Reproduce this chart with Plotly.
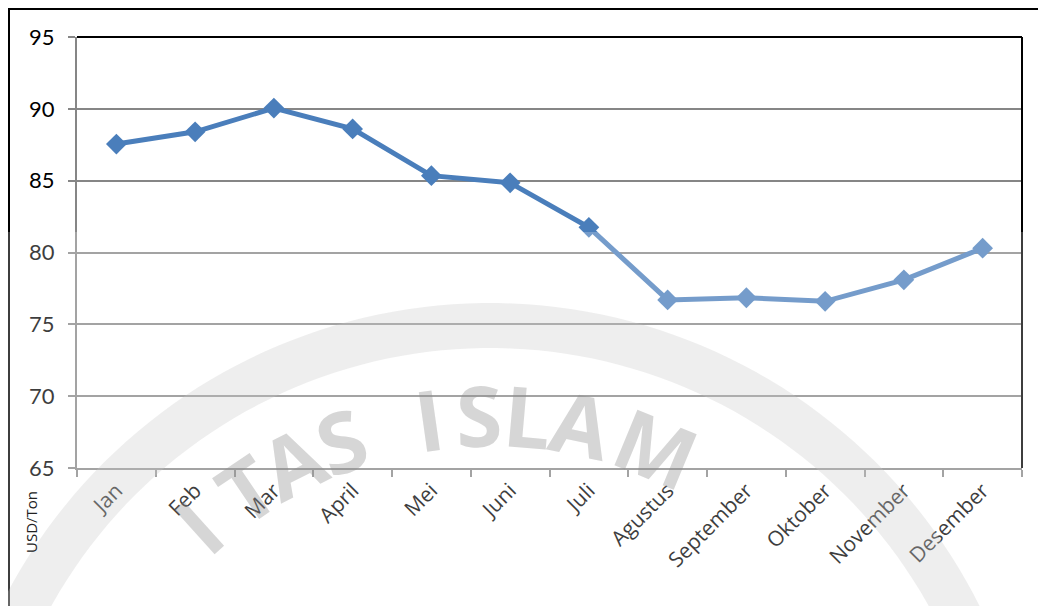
import numpy as np
import plotly.graph_objects as go

months = ["Jan", "Feb", "Mar", "April", "Mei", "Juni", "Juli", "Agustus",
          "September", "Oktober", "November", "Desember"]
price = [87.55, 88.4, 90.05, 88.6, 85.35, 84.85, 81.75, 76.7, 76.85, 76.6, 78.1, 80.3]
y_ticks = [65, 70, 75, 80, 85, 90, 95]
unit_label = "USD/Ton"

OFF = 8  # page body margin
W, H = 1046 - OFF, 606 - OFF
L, T = 77 - OFF, 37 - OFF
R = W - (1022 - OFF)
B = H - (468 - OFF)
PW, PH = W - L - R, H - T - B


def xp(px):
    return (px - OFF - L) / PW


def yp(py):
    return (H - B - (py - OFF)) / PH


fig = go.Figure()
fig.add_trace(go.Scatter(
    x=months, y=price, mode="lines+markers",
    line=dict(color="#4a7ebb", width=5),
    marker=dict(symbol="diamond", size=16, color="#4a7ebb"),
    showlegend=False, hoverinfo="x+y",
))

shapes = []
# outer frame (top and left)
shapes.append(dict(type="line", xref="paper", yref="paper", x0=xp(8), x1=xp(1060), y0=yp(9), y1=yp(9),
                   line=dict(color="black", width=2)))
shapes.append(dict(type="line", xref="paper", yref="paper", x0=xp(9), x1=xp(9), y0=yp(8), y1=yp(620),
                   line=dict(color="black", width=2)))
# plot-area top and right
shapes.append(dict(type="line", xref="paper", yref="paper", x0=0, x1=1, y0=1, y1=1,
                   line=dict(color="black", width=2)))
shapes.append(dict(type="line", xref="paper", yref="paper", x0=1, x1=1, y0=0, y1=1,
                   line=dict(color="black", width=2)))

# watermark lightening overlay
shapes.append(dict(type="rect", xref="paper", yref="paper", layer="above",
                   x0=xp(0), x1=xp(1060), y0=yp(620), y1=yp(232),
                   fillcolor="rgba(255,255,255,0.24)", line=dict(width=0)))

# watermark ring
cx, cy, ro, ri = 490, 850, 547, 502
th = np.radians(np.linspace(-70, 70, 90))
outer = [(cx + ro * np.sin(t), cy - ro * np.cos(t)) for t in th]
inner = [(cx + ri * np.sin(t), cy - ri * np.cos(t)) for t in th[::-1]]
pts = outer + inner
path = "M " + " L ".join(f"{xp(a):.5f},{yp(b):.5f}" for a, b in pts) + " Z"
shapes.append(dict(type="path", xref="paper", yref="paper", layer="above", path=path,
                   fillcolor="rgba(200,200,200,0.3)", line=dict(width=0)))

annotations = [dict(text=unit_label, xref="paper", yref="paper", x=xp(31), y=yp(522),
                    xanchor="center", yanchor="middle",
                    showarrow=False, textangle=-90, font=dict(family="Open Sans", size=15, color="#222"))]

# watermark letters along arc (visible ones)
letter_angles = [("I", -42), ("T", -34), ("A", -27), ("S", -20),
                 ("I", -8), ("S", -1.5), ("L", 5), ("A", 12), ("M", 22.5)]
rl = 436
for ch, ang in letter_angles:
    t = np.radians(ang)
    ax_ = cx + rl * np.sin(t)
    ay_ = cy - rl * np.cos(t)
    annotations.append(dict(text=ch, xref="paper", yref="paper", x=xp(ax_), y=yp(ay_),
                            xanchor="center", yanchor="middle",
                            showarrow=False, textangle=ang,
                            font=dict(family="Open Sans", size=84, weight=700,
                                      color="rgba(140,140,140,0.36)")))

fig.update_layout(
    width=W, height=H,
    margin=dict(l=L, r=R, t=T, b=B, autoexpand=False),
    paper_bgcolor="white", plot_bgcolor="white",
    shapes=shapes, annotations=annotations,
    xaxis=dict(
        type="category", tickangle=-45, tickson="boundaries", range=[-0.5, len(months) - 0.5],
        ticks="outside", ticklen=7, tickcolor="#868686", tickwidth=1.5,
        showline=True, linecolor="#868686", linewidth=2,
        showgrid=False, zeroline=False, automargin=False,
        tickfont=dict(family="Open Sans", size=21, color="#000"),
    ),
    yaxis=dict(
        range=[65, 95], tickvals=y_ticks,
        ticks="outside", ticklen=7, tickcolor="#868686", tickwidth=1.5,
        showline=True, linecolor="#868686", linewidth=2,
        showgrid=True, gridcolor="#868686", gridwidth=1.5, zeroline=False, automargin=False,
        tickfont=dict(family="Lato", size=22, color="#000"),
        ticklabelstandoff=9,
    ),
)

fig.write_html("out.html")
